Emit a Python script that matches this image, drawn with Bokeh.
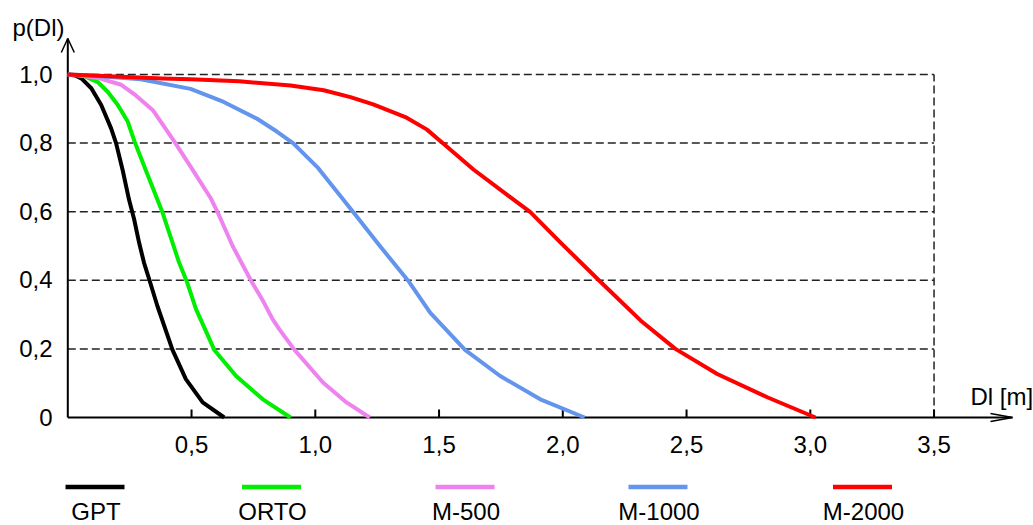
from bokeh.plotting import figure
from bokeh.models import Range1d
from bokeh.core.properties import value
from bokeh.embed import file_html
from bokeh.resources import INLINE

# ---------------- data ----------------
series_names = ["GPT", "ORTO", "M-500", "M-1000", "M-2000"]
series_colors = ["#000000", "#00ee00", "#ee82ee", "#6495ed", "#ff0000"]

dl_gpt = [0, 0.03, 0.056, 0.095, 0.135, 0.175, 0.195, 0.222, 0.247, 0.268, 0.288, 0.308, 0.331, 0.362,
          0.423, 0.477, 0.545, 0.632]
p_gpt = [1.0, 0.997, 0.988, 0.960, 0.911, 0.843, 0.800, 0.720, 0.636, 0.578, 0.510, 0.451, 0.398, 0.325,
         0.197, 0.112, 0.044, 0.0]

dl_orto = [0, 0.04, 0.067, 0.121, 0.162, 0.202, 0.242, 0.272, 0.318, 0.382, 0.423, 0.45, 0.480, 0.518,
           0.592, 0.680, 0.788, 0.900]
p_orto = [1.0, 0.998, 0.995, 0.978, 0.949, 0.911, 0.863, 0.800, 0.716, 0.599, 0.510, 0.451, 0.398, 0.316,
          0.197, 0.121, 0.053, 0.0]

dl_m500 = [0, 0.05, 0.121, 0.216, 0.275, 0.345, 0.43, 0.50, 0.577, 0.605, 0.666, 0.741, 0.785, 0.828,
           0.855, 0.916, 1.031, 1.126, 1.220]
p_m500 = [1.0, 0.997, 0.990, 0.970, 0.939, 0.895, 0.805, 0.727, 0.640, 0.599, 0.500, 0.398, 0.345, 0.286,
          0.257, 0.197, 0.102, 0.044, 0.0]

dl_m1000 = [0, 0.092, 0.294, 0.496, 0.630, 0.765, 0.846, 0.91, 1.008, 1.153, 1.261, 1.376, 1.464, 1.605,
            1.747, 1.909, 2.088]
p_m1000 = [1.0, 0.997, 0.986, 0.958, 0.920, 0.871, 0.833, 0.800, 0.730, 0.599, 0.500, 0.398, 0.306, 0.197,
           0.121, 0.053, 0.0]

dl_m2000 = [0, 0.382, 0.496, 0.693, 0.900, 1.034, 1.142, 1.234, 1.369, 1.45, 1.518, 1.639, 1.774, 1.869,
            1.991, 2.153, 2.314, 2.455, 2.624, 2.826, 3.021]
p_m2000 = [1.0, 0.988, 0.986, 0.980, 0.968, 0.954, 0.934, 0.913, 0.874, 0.840, 0.798, 0.723, 0.650, 0.599,
           0.510, 0.395, 0.283, 0.200, 0.127, 0.059, 0.0]

x_ticks = [0.5, 1.0, 1.5, 2.0, 2.5, 3.0, 3.5]
x_tick_labels = ["0,5", "1,0", "1,5", "2,0", "2,5", "3,0", "3,5"]
y_ticks = [0.0, 0.2, 0.4, 0.6, 0.8, 1.0]
y_tick_labels = ["0", "0,2", "0,4", "0,6", "0,8", "1,0"]
grid_levels = [0.2, 0.4, 0.6, 0.8, 1.0]
x_limit = 3.5
y_limit = 1.0

x_title = "Dl [m]"
y_title = "p(Dl)"

# ---------------- layout ----------------
W, H = 1033, 525
X0_PX, PX_PER_X = 67.3, 247.5
Y0_PX, PX_PER_Y = 417.0, 343.0
FONT = value("Liberation Sans")
FS = "24px"
TXT_SHIFT = 9.0  # rendered text sits lower than requested baseline


def sx(px):
    return (px - X0_PX) / PX_PER_X


def sy(py):
    return (Y0_PX - py) / PX_PER_Y


def ty(py):
    return sy(py - TXT_SHIFT)


def dx(px):
    return px / PX_PER_X


def dy(px):
    return px / PX_PER_Y


p = figure(width=W, height=H, output_backend="svg", toolbar_location=None,
           x_range=Range1d(sx(0), sx(W)), y_range=Range1d(sy(H), sy(0)),
           x_axis_type=None, y_axis_type=None, min_border=0)
p.outline_line_color = None
p.grid.visible = False
p.background_fill_color = "white"
p.border_fill_color = "white"

# dashed grid
p.segment(x0=[0] * len(grid_levels), y0=grid_levels, x1=[x_limit] * len(grid_levels), y1=grid_levels,
          line_color="#222222", line_width=1.5, line_dash="8 4")
p.segment(x0=[x_limit], y0=[0], x1=[x_limit], y1=[y_limit],
          line_color="#222222", line_width=1.5, line_dash="8 4")

# axes with arrows
x_tip = sx(1012)
y_tip = sy(38)
p.segment(x0=[0, 0], y0=[0, 0], x1=[x_tip, 0], y1=[0, y_tip], line_color="black", line_width=2)
p.line([x_tip - dx(22), x_tip, x_tip - dx(22)], [dy(4), 0, -dy(4)], line_color="black", line_width=1.5)
p.line([-dx(6.5), 0, dx(6.5)], [y_tip - dy(14), y_tip, y_tip - dy(14)], line_color="black", line_width=1.5)

# x ticks (inward)
p.segment(x0=x_ticks, y0=[0] * len(x_ticks), x1=x_ticks, y1=[dy(8)] * len(x_ticks),
          line_color="black", line_width=2)

# tick labels
p.text(x=x_ticks, y=[ty(453)] * len(x_ticks), text=x_tick_labels, text_align="center",
       text_baseline="alphabetic", text_font=FONT, text_font_size=FS, text_color="black")
p.text(x=[sx(52)] * len(y_ticks), y=[v + dy(TXT_SHIFT - 8.5) for v in y_ticks], text=y_tick_labels,
       text_align="right", text_baseline="alphabetic", text_font=FONT, text_font_size=FS,
       text_color="black")

# axis titles
p.text(x=[sx(970)], y=[ty(405)], text=[x_title], text_align="left", text_baseline="alphabetic",
       text_font=FONT, text_font_size=FS, text_color="black")
p.text(x=[sx(12)], y=[ty(36)], text=[y_title], text_align="left", text_baseline="alphabetic",
       text_font=FONT, text_font_size=FS, text_color="black")

# curves
series_x = [dl_gpt, dl_orto, dl_m500, dl_m1000, dl_m2000]
series_y = [p_gpt, p_orto, p_m500, p_m1000, p_m2000]
for xs, ys, c in zip(series_x, series_y, series_colors):
    p.line(xs, ys, line_color=c, line_width=4, line_join="round")

# legend (line above, label below)
leg_centers_px = [94.5, 271, 464.5, 657.5, 862]
leg_half = 29.5
p.segment(x0=[sx(c - leg_half) for c in leg_centers_px], y0=[sy(486.5)] * 5,
          x1=[sx(c + leg_half) for c in leg_centers_px], y1=[sy(486.5)] * 5,
          line_color=series_colors, line_width=4.5)
p.text(x=[sx(c + 1) for c in leg_centers_px], y=[ty(520)] * 5, text=series_names,
       text_align="center", text_baseline="alphabetic", text_font=FONT, text_font_size=FS,
       text_color="black")

open("out.html", "w").write(file_html(p, INLINE))
